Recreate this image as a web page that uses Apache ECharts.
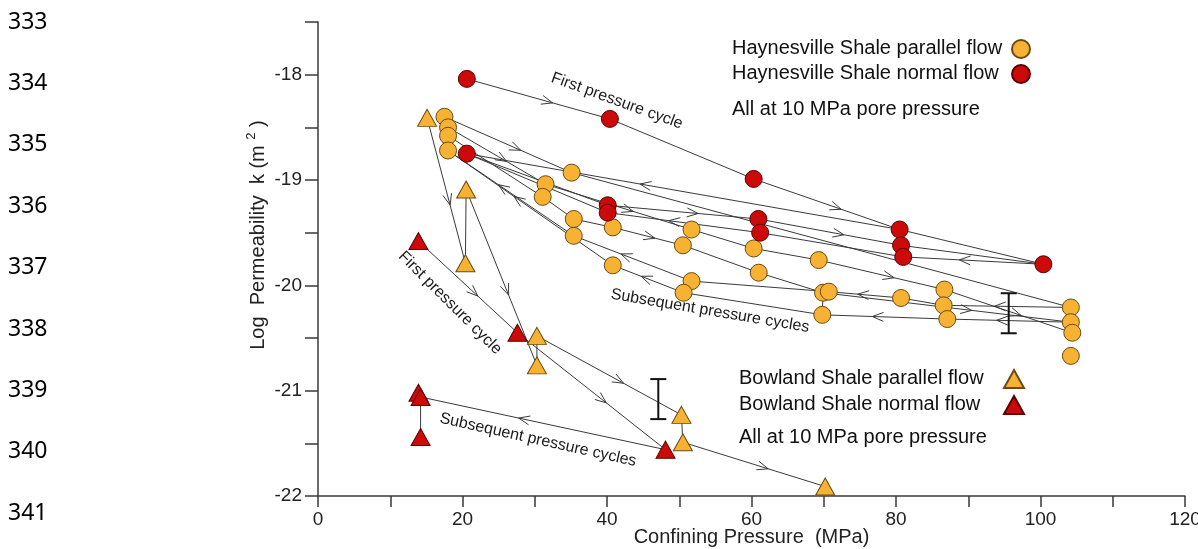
<!DOCTYPE html>
<html>
<head>
<meta charset="utf-8">
<script src="https://cdn.jsdelivr.net/npm/echarts@6.0.0/dist/echarts.min.js"></script>
<style>
html,body{margin:0;padding:0;background:#ffffff;}
#c{width:1198px;height:549px;}
</style>
</head>
<body>
<div id="c"></div>
<script>
// ---------------- DATA ----------------
const lineNumbers = ['333','334','335','336','337','338','339','340','341'];
const xLabelStep = 20;   // labels every 20 MPa, ticks every 10
const yLabelStep = 1;    // labels every 1, ticks every 0.5

// Haynesville Shale parallel flow (orange circles)  [MPa, log k]
const haynesParallel = [
  [17.5,-18.40],[18.0,-18.50],[18.0,-18.58],[18.0,-18.72],
  [35.1,-18.93],[31.5,-19.04],[31.1,-19.16],[35.4,-19.37],[35.4,-19.53],
  [40.8,-19.45],[40.8,-19.81],
  [51.7,-19.47],[50.5,-19.62],[51.7,-19.96],[50.6,-20.07],
  [60.3,-19.65],[61.0,-19.88],
  [69.3,-19.76],[69.9,-20.07],[70.7,-20.06],[69.8,-20.28],
  [80.7,-20.12],
  [86.7,-20.04],[86.6,-20.19],[87.1,-20.32],
  [104.2,-20.21],[104.2,-20.35],[104.4,-20.45],[104.2,-20.67]
];
// Haynesville Shale normal flow (red circles)
const haynesNormal = [
  [20.6,-18.04],[40.4,-18.42],[60.3,-18.99],[80.5,-19.47],[100.4,-19.80],
  [20.6,-18.75],[40.1,-19.24],[40.1,-19.31],[60.95,-19.37],[61.2,-19.50],
  [80.7,-19.62],[81.0,-19.73]
];
// Bowland Shale parallel flow (orange triangles)
const bowlandParallel = [
  [15.1,-18.41],[20.5,-19.09],[20.4,-19.79],[30.3,-20.48],[30.3,-20.76],
  [50.3,-21.23],[50.5,-21.49],[70.2,-21.91]
];
// Bowland Shale normal flow (red triangles)
const bowlandNormal = [
  [13.9,-19.58],[27.6,-20.45],[48.1,-21.56],[13.9,-21.02],[14.2,-21.06],[14.2,-21.44]
];

// Pressure-cycle paths (sequence of points) and arrow flags per segment
const hnLoad1   = [[20.6,-18.04],[40.4,-18.42],[60.3,-18.99],[80.5,-19.47],[100.4,-19.80]];
const hnLoad1A  = [1,0,1,0];
const hnUnload1 = [[80.5,-19.47],[20.6,-18.75]];
const hnUnload1A= [1];
const hnLoad2   = [[20.6,-18.75],[40.1,-19.24],[60.95,-19.37],[80.7,-19.62],[100.4,-19.80]];
const hnLoad2A  = [0,1,1,0];
const hnUnload2 = [[100.4,-19.80],[81.0,-19.73],[61.2,-19.50],[40.1,-19.31],[20.6,-18.75]];
const hnUnload2A= [1,0,1,0];

const hp1  = [[17.5,-18.40],[35.1,-18.93],[104.2,-20.21]];
const hp1A = [1,0];
const hp2  = [[104.2,-20.21],[86.6,-20.19],[80.7,-20.12],[70.7,-20.06],[51.7,-19.96],[35.4,-19.53],[18.0,-18.72]];
const hp2A = [1,0,1,0,1,1];
const hp3  = [[18.0,-18.50],[31.5,-19.04],[51.7,-19.47],[60.3,-19.65],[69.3,-19.76],[86.7,-20.04],[104.4,-20.45]];
const hp3A = [1,1,0,0,1,1];
const hp4  = [[104.2,-20.35],[87.1,-20.32],[69.8,-20.28],[50.6,-20.07],[40.8,-19.81],[18.0,-18.72]];
const hp4A = [1,1,0,1,1];
const hp5  = [[18.0,-18.58],[31.1,-19.16],[35.4,-19.37],[40.8,-19.45],[50.5,-19.62],[61.0,-19.88],[69.9,-20.07],[104.2,-20.35]];
const hp5A = [0,0,0,1,0,0,1];
const hp6  = [[69.9,-20.07],[69.8,-20.28]];
const hp6A = [0];

const bp1  = [[15.1,-18.41],[20.4,-19.79],[20.5,-19.09],[30.3,-20.76],[30.3,-20.48],[50.3,-21.23],[50.5,-21.49],[70.2,-21.91]];
const bp1A = [1,0,1,0,1,0,1];
const bn1  = [[13.9,-19.58],[27.6,-20.45],[48.1,-21.56],[14.2,-21.06],[14.2,-21.44]];
const bn1A = [1,1,1,0];

// Error bars [x, top, bottom]
const errorBars = [[95.6,-20.075,-20.455],[47.1,-20.89,-21.27]];

// Legend entries
const haynesNames  = ['Haynesville Shale parallel flow','Haynesville Shale normal flow'];
const bowlandNames = ['Bowland Shale parallel flow','Bowland Shale normal flow'];
const poreNote = 'All at 10 MPa pore pressure';

// ---------------- CHART ----------------
const FONT = '"Liberation Sans", Arial, Helvetica, sans-serif';
const LINE = '#3a3a3a';
const ORANGE = '#F7B234';
const RED = '#CC0A0A';

function segs(path, flags){
  const out = [];
  for (let i = 1; i < path.length; i++) {
    out.push([path[i-1][0], path[i-1][1], path[i][0], path[i][1], flags[i-1]]);
  }
  return out;
}
const segData = [].concat(
  segs(hnLoad1,hnLoad1A), segs(hnUnload1,hnUnload1A), segs(hnLoad2,hnLoad2A), segs(hnUnload2,hnUnload2A),
  segs(hp1,hp1A), segs(hp2,hp2A), segs(hp3,hp3A), segs(hp4,hp4A), segs(hp5,hp5A), segs(hp6,hp6A),
  segs(bp1,bp1A), segs(bn1,bn1A)
);

function renderSeg(params, api){
  const a = api.coord([api.value(0), api.value(1)]);
  const b = api.coord([api.value(2), api.value(3)]);
  const children = [{type:'line', shape:{x1:a[0],y1:a[1],x2:b[0],y2:b[1]}, style:{stroke:LINE, lineWidth:1}}];
  if (api.value(4)) {
    const dx = b[0]-a[0], dy = b[1]-a[1], len = Math.hypot(dx,dy);
    const ux = dx/len, uy = dy/len;
    const px = a[0]+dx*0.6, py = a[1]+dy*0.6;
    const L = 12, ang = 0.38, c = Math.cos(ang), s = Math.sin(ang);
    const e1 = [px - L*(ux*c - uy*s), py - L*(uy*c + ux*s)];
    const e2 = [px - L*(ux*c + uy*s), py - L*(uy*c - ux*s)];
    children.push({type:'polyline', shape:{points:[e1,[px,py],e2]}, style:{stroke:LINE, lineWidth:1, fill:null}});
  }
  return {type:'group', children};
}
function renderErr(params, api){
  const t = api.coord([api.value(0), api.value(1)]);
  const b = api.coord([api.value(0), api.value(2)]);
  const w = 8, st = {stroke:'#111', lineWidth:2};
  return {type:'group', children:[
    {type:'line', shape:{x1:t[0],y1:t[1],x2:b[0],y2:b[1]}, style:st},
    {type:'line', shape:{x1:t[0]-w,y1:t[1],x2:t[0]+w,y2:t[1]}, style:st},
    {type:'line', shape:{x1:b[0]-w,y1:b[1],x2:b[0]+w,y2:b[1]}, style:st}
  ]};
}

const graphics = lineNumbers.map((t,i)=>({
  type:'text', x:8, y:22 + i*61.4, silent:true,
  style:{text:t, font:'23px "Noto Sans", "Open Sans", sans-serif', fill:'#000', verticalAlign:'middle'}
}));
function note(text, x, y, deg){
  return {type:'text', x:x, y:y, rotation:-deg*Math.PI/180, silent:true, z:10,
    style:{text:text, font:'16px '+FONT, fill:'#1a1a1a', align:'center', verticalAlign:'middle'}};
}
function label(text, x, y){
  return {type:'text', x:x, y:y, silent:true, style:{text:text, font:'20px '+FONT, fill:'#111', verticalAlign:'middle'}};
}
graphics.push(
  note('First pressure cycle', 617, 101, 20),
  note('Subsequent pressure cycles', 710, 311, 9.6),
  note('First pressure cycle', 450, 303, 45),
  note('Subsequent pressure cycles', 538, 440, 12.5),
  label(haynesNames[0], 732, 48),
  label(haynesNames[1], 732, 73),
  label(poreNote, 732, 109),
  label(bowlandNames[0], 739, 378),
  label(bowlandNames[1], 739, 404),
  label(poreNote, 739, 437)
);

const axisLineStyle = {color:'#3a3a3a', width:1.5};
const option = {
  animation:false,
  backgroundColor:'#ffffff',
  grid:{left:318, right:13, top:22, bottom:53, containLabel:false, outerBoundsMode:'none'},
  xAxis:{
    type:'value', min:0, max:120, interval:10,
    axisLine:{show:true, onZero:false, lineStyle:axisLineStyle},
    axisTick:{show:true, length:11, lineStyle:axisLineStyle},
    splitLine:{show:false},
    axisLabel:{fontSize:19, fontFamily:FONT, color:'#222', margin:14,
      formatter:(v)=> (v % xLabelStep === 0 ? String(v) : '')},
    name:'Confining Pressure  (MPa)', nameLocation:'middle', nameGap:31, nameMoveOverlap:false,
    nameTextStyle:{fontSize:20, fontFamily:FONT, color:'#222'}
  },
  yAxis:{
    type:'value', min:-22, max:-17.5, interval:0.5,
    axisLine:{show:true, onZero:false, lineStyle:axisLineStyle},
    axisTick:{show:true, length:13, lineStyle:axisLineStyle},
    splitLine:{show:false},
    axisLabel:{fontSize:19, fontFamily:FONT, color:'#222', margin:16,
      formatter:(v)=> (Math.abs(v % yLabelStep) < 1e-9 ? String(v) : '')},
    name:'Log  Permeability  k (m {sup|2} )', nameLocation:'middle', nameGap:47, nameMoveOverlap:false,
    nameTextStyle:{fontSize:20, fontFamily:FONT, color:'#222', lineHeight:26, padding:[0,0,0,48],
      rich:{sup:{fontSize:13, fontFamily:FONT, color:'#222', verticalAlign:'top', lineHeight:13}}}
  },
  legend:[
    {data:haynesNames, formatter:()=>'', orient:'vertical', left:1011, top:39, itemGap:5,
     itemWidth:18, itemHeight:18, selectedMode:false, padding:0,
     textStyle:{fontSize:12, lineHeight:18}},
    {data:bowlandNames, formatter:()=>'', orient:'vertical', left:1003, top:369, itemGap:6,
     itemWidth:20, itemHeight:18, selectedMode:false, padding:0,
     textStyle:{fontSize:12, lineHeight:18}}
  ],
  graphic:graphics,
  series:[
    {type:'custom', name:'cycles', renderItem:renderSeg, data:segData, encode:{x:[0,2], y:[1,3]}, z:1, silent:true, clip:false},
    {type:'custom', name:'errors', renderItem:renderErr, data:errorBars, encode:{x:0, y:[1,2]}, z:1, silent:true},
    {type:'scatter', name:haynesNames[0], data:haynesParallel, symbol:'circle', symbolSize:17, z:3,
      itemStyle:{color:ORANGE, borderColor:'#6a4a12', borderWidth:1, opacity:1}},
    {type:'scatter', name:haynesNames[1], data:haynesNormal, symbol:'circle', symbolSize:17, z:3,
      itemStyle:{color:RED, borderColor:'#5a0000', borderWidth:1, opacity:1}},
    {type:'scatter', name:bowlandNames[0], data:bowlandParallel, symbol:'triangle', symbolSize:[19,17], z:3,
      itemStyle:{color:ORANGE, borderColor:'#6a4a12', borderWidth:1, opacity:1}},
    {type:'scatter', name:bowlandNames[1], data:bowlandNormal, symbol:'triangle', symbolSize:[19,17], z:3,
      itemStyle:{color:RED, borderColor:'#5a0000', borderWidth:1, opacity:1}}
  ]
};
const chart = echarts.init(document.getElementById('c'));
chart.setOption(option);
</script>
</body>
</html>
